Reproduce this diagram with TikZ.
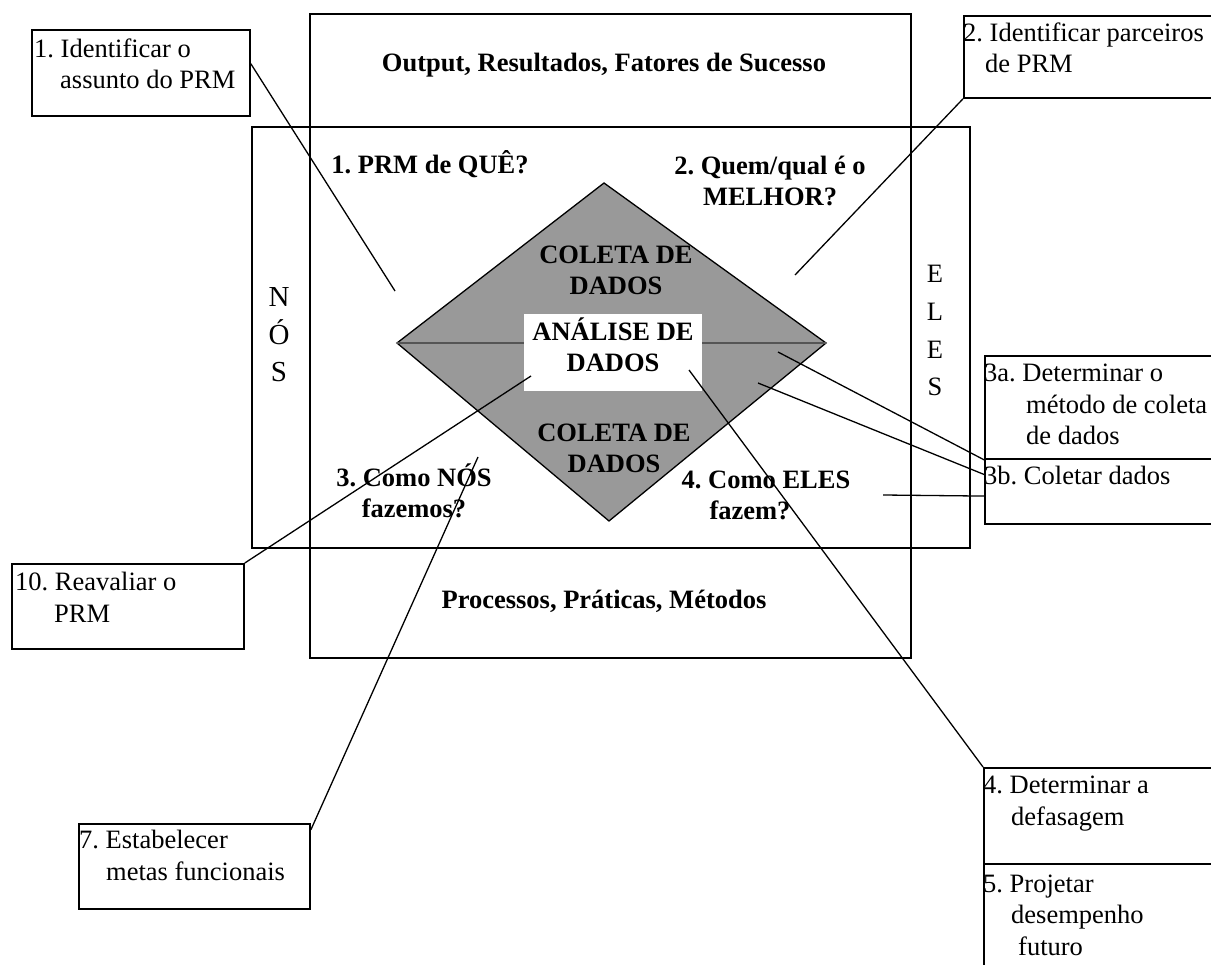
\documentclass[tikz,border=0pt]{standalone}
\usepackage{fontspec}
\setmainfont{Liberation Serif}
\frenchspacing
\usetikzlibrary{calc}
\definecolor{diamondfill}{RGB}{153,153,153}
\definecolor{axisgray}{RGB}{85,85,85}
% multi-line nodes are placed by the baseline of their last line
\tikzset{
  frame/.style={draw=black, line width=1.8pt, inner sep=0pt, anchor=north west},
  callout/.style={draw=black, line width=1.8pt, inner sep=0pt, anchor=north west},
  calltext/.style={inner sep=0pt, anchor=base west, align=left,
    font=\fontsize{26.5}{31.5}\selectfont},
  heading/.style={inner sep=0pt, anchor=base, align=center,
    font=\fontsize{26.5}{31.5}\selectfont\bfseries},
  side/.style={inner sep=0pt, anchor=base, align=center},
  leader/.style={line width=1.3pt, draw=black},
}
\begin{document}
\begin{tikzpicture}[x=1pt,y=-1pt]
\path[use as bounding box] (0,0) rectangle (1211,965);
\clip (0,0) rectangle (1211,965);
\fill[white] (0,0) rectangle (1211,965);

% the two crossing frames
\node[frame, minimum width=601pt, minimum height=644pt] (vframe) at (309,13) {};
\node[frame, minimum width=718pt, minimum height=421pt] (hframe) at (251,126) {};

% central diamond, split by its horizontal axis
\coordinate (dT) at (604,183);
\coordinate (dR) at (826,343);
\coordinate (dB) at (609,521);
\coordinate (dL) at (397,343);
\filldraw[fill=diamondfill, draw=black, line width=1.3pt] (dT) -- (dR) -- (dB) -- (dL) -- cycle;
\draw[axisgray, line width=1.3pt] (dL) -- (dR);
\node[fill=white, inner sep=0pt, minimum width=178pt, minimum height=77pt] (analise) at (613,352.5) {};

% texts inside the frames
\node[heading] (out) at (604,72) {Output, Resultados, Fatores de Sucesso};
\node[heading] (q1) at (430,174) {1. PRM de QUÊ?};
\node[heading] (q2) at (770,206) {2. Quem/qual é o\\MELHOR?};
\node[heading] (q3) at (414,518) {3. Como NÓS\\fazemos?};
\node[heading] (q4) at (766,520) {4. Como ELES\\fazem?\hspace*{32pt}};
\node[heading] (proc) at (604,608) {Processos, Práticas, Métodos};
\node[heading] (coletaA) at (616,295) {COLETA DE\\DADOS};
\node[heading] (analisetxt) at (613,372) {ANÁLISE DE\\DADOS};
\node[heading] (coletaB) at (614,473) {COLETA DE\\DADOS};
\node[side, font=\fontsize{29}{37.5}\selectfont] (nos) at (279,382) {N\\Ó\\S};
\node[side, font=\fontsize{26.5}{37.7}\selectfont] (eles) at (935,396) {E\\L\\E\\S};

% step callouts
\node[callout, minimum width=218pt, minimum height=86pt] (b1) at (31,29) {};
\node[callout, minimum width=267pt, minimum height=82pt] (b2) at (963,15) {};
\node[callout, minimum width=246pt, minimum height=103pt] (b3a) at (984,355) {};
\node[callout, minimum width=246pt, minimum height=65pt] (b3b) at (984,458) {};
\node[callout, minimum width=247pt, minimum height=96pt] (b4) at (983,767) {};
\node[callout, minimum width=247pt, minimum height=140pt] (b5) at (983,863) {};
\node[callout, minimum width=232pt, minimum height=85pt] (b10) at (11,563) {};
\node[callout, minimum width=231pt, minimum height=85pt] (b7) at (78,823) {};

\node[calltext] (t1) at (34,89) {1. Identificar o\\\hspace*{26pt}assunto do PRM};
\node[calltext] (t2) at (963,73) {2. Identificar parceiros\\\hspace*{22pt}de PRM};
\node[calltext] (t3a) at (984,445) {3a. Determinar o\\\hspace*{42pt}método de coleta\\\hspace*{42pt}de dados};
\node[calltext] (t3b) at (984,485) {3b. Coletar dados};
\node[calltext] (t4) at (983,825) {4. Determinar a\\\hspace*{28pt}defasagem};
\node[calltext] (t5) at (983,955) {5. Projetar\\\hspace*{28pt}desempenho\\\hspace*{35pt}futuro};
\node[calltext] (t10) at (15,622) {10. Reavaliar o\\\hspace*{39pt}PRM};
\node[calltext] (t7) at (79,880) {7. Estabelecer\\\hspace*{27pt}metas funcionais};

% leader lines from the callouts into the diagram
\coordinate (e1) at (395,291);
\coordinate (e2) at (795,275);
\coordinate (e3a) at (778,352);
\coordinate (e3b) at (758,383);
\coordinate (e3c) at (883,495);
\coordinate (e4) at (689,370);
\coordinate (e10) at (531,376);
\coordinate (e7) at (478,457);

\draw[leader] ($(b1.north east)!0.395!(b1.south east)$) -- (e1);
\draw[leader] (b2.south west) -- (e2);
\draw[leader] (b3a.south west) -- (e3a);
\draw[leader] ($(b3b.north west)!0.246!(b3b.south west)$) -- (e3b);
\draw[leader] (e3c) -- ($(b3b.north west)!0.57!(b3b.south west)$);
\draw[leader] (b4.north west) -- (e4);
\draw[leader] (b10.north east) -- (e10);
\draw[leader] ($(b7.north east)!0.08!(b7.south east)$) -- (e7);
\end{tikzpicture}
\end{document}
